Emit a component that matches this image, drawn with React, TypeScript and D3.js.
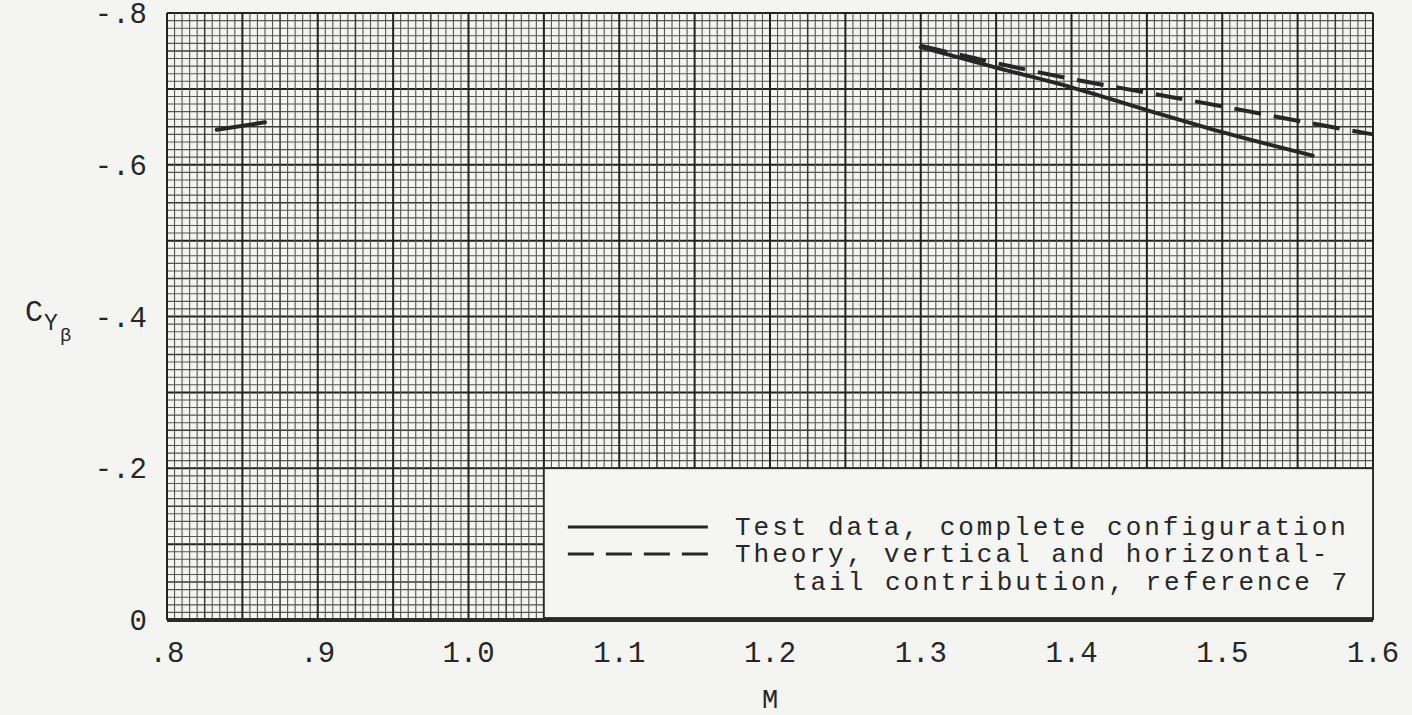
import React from "react";
import * as d3 from "d3";

// ---- Data ----
const xTickLabels = [".8", ".9", "1.0", "1.1", "1.2", "1.3", "1.4", "1.5", "1.6"];
const xTickValues = [0.8, 0.9, 1.0, 1.1, 1.2, 1.3, 1.4, 1.5, 1.6];
const yTickLabels = ["0", "-.2", "-.4", "-.6", "-.8"];
const yTickValues = [0, -0.2, -0.4, -0.6, -0.8];

// Test data, complete configuration (solid)
const testLowM = [0.833, 0.865];
const testLowCY = [-0.646, -0.656];
const testHighM = [1.30, 1.35, 1.40, 1.45, 1.50, 1.56];
const testHighCY = [-0.755, -0.728, -0.702, -0.672, -0.643, -0.612];

// Theory, vertical and horizontal-tail contribution (dashed)
const theoryM = [1.30, 1.35, 1.40, 1.45, 1.50, 1.55, 1.60];
const theoryCY = [-0.757, -0.734, -0.713, -0.695, -0.677, -0.658, -0.640];

const legendLabels = [
  "Test data, complete configuration",
  "Theory, vertical and horizontal-",
  "tail contribution, reference 7",
];

const W = 1412;
const H = 715;
const left = 167;
const right = 1373;
const top = 13;
const bottom = 620;

const FONT = "'Liberation Mono', 'DejaVu Sans Mono', monospace";
const INK = "#262626";

export default function App() {
  const x = d3.scaleLinear().domain([0.8, 1.6]).range([left, right]);
  const y = d3.scaleLinear().domain([0, -0.8]).range([bottom, top]);

  const line = d3
    .line<[number, number]>()
    .x((d) => x(d[0]))
    .y((d) => y(d[1]))
    .curve(d3.curveMonotoneX);

  const zip = (a: number[], b: number[]) => a.map((v, i) => [v, b[i]] as [number, number]);

  const vLines = d3.range(0, 161).map((i) => ({ v: 0.8 + i * 0.005, i }));
  const hLines = d3.range(0, 81).map((i) => ({ v: -i * 0.01, i }));

  const style = (i: number) =>
    i % 10 === 0
      ? { stroke: "#222", sw: 2 }
      : i % 5 === 0
      ? { stroke: "#383838", sw: 1.5 }
      : { stroke: "#555", sw: 1.1 };

  // legend box spans from M=1.05, CY=-0.2 to frame corner
  const lgX = x(1.05);
  const lgY = y(-0.2);

  return (
    <svg
      width={W}
      height={H}
      style={{ position: "absolute", left: 0, top: 0 }}
      xmlns="http://www.w3.org/2000/svg"
    >
      <rect x={0} y={0} width={W} height={H} fill="#f4f4f2" />
      {/* grid */}
      <g>
        {hLines.map(({ v, i }) => {
          const s = style(i);
          return (
            <line
              key={"h" + i}
              x1={left}
              x2={right}
              y1={y(v)}
              y2={y(v)}
              stroke={s.stroke}
              strokeWidth={s.sw}
            />
          );
        })}
        {vLines.map(({ v, i }) => {
          const s = style(i);
          return (
            <line
              key={"v" + i}
              x1={x(v)}
              x2={x(v)}
              y1={top}
              y2={bottom}
              stroke={s.stroke}
              strokeWidth={s.sw}
            />
          );
        })}
      </g>
      {/* bottom thick axis */}
      <line x1={left} x2={right} y1={bottom} y2={bottom} stroke="#2a2a2a" strokeWidth={4} />

      {/* legend box */}
      <rect
        x={lgX}
        y={lgY}
        width={right - lgX}
        height={bottom - lgY - 2}
        fill="#f5f5f3"
        stroke="#2a2a2a"
        strokeWidth={1.8}
      />
      <line x1={lgX + 24} x2={lgX + 164} y1={527} y2={527} stroke={INK} strokeWidth={3} />
      <line
        x1={lgX + 24}
        x2={lgX + 164}
        y1={554}
        y2={554}
        stroke={INK}
        strokeWidth={3}
        strokeDasharray="26 12"
      />
      <g fontFamily={FONT} fontSize={26} letterSpacing={3} fill={INK}>
        <text x={735} y={535}>{legendLabels[0]}</text>
        <text x={735} y={562}>{legendLabels[1]}</text>
        <text x={792} y={590}>{legendLabels[2]}</text>
      </g>

      {/* data lines */}
      <path d={line(zip(testLowM, testLowCY)) || ""} fill="none" stroke={INK} strokeWidth={4} strokeLinecap="round" />
      <path d={line(zip(testHighM, testHighCY)) || ""} fill="none" stroke={INK} strokeWidth={4} strokeLinecap="round" />
      <path
        d={line(zip(theoryM, theoryCY)) || ""}
        fill="none"
        stroke={INK}
        strokeWidth={4}
        strokeDasharray="27 13"
      />

      {/* x tick labels */}
      <g fontFamily={FONT} fontSize={29} fill={INK} textAnchor="middle">
        {xTickValues.map((v, i) => (
          <text key={"xt" + i} x={x(v)} y={662}>
            {xTickLabels[i]}
          </text>
        ))}
        <text x={x(1.2)} y={708} fontSize={27}>M</text>
      </g>
      {/* y tick labels */}
      <g fontFamily={FONT} fontSize={29} fill={INK} textAnchor="end">
        {yTickValues.map((v, i) => (
          <text key={"yt" + i} x={147} y={y(v) + 10}>
            {yTickLabels[i]}
          </text>
        ))}
      </g>
      {/* y axis title */}
      <g fontFamily={FONT} fill={INK}>
        <text x={25} y={y(-0.4) + 4} fontSize={30}>C</text>
        <text x={44} y={y(-0.4) + 13} fontSize={23}>Y</text>
        <text x={60} y={y(-0.4) + 24} fontSize={19}>β</text>
      </g>
    </svg>
  );
}
